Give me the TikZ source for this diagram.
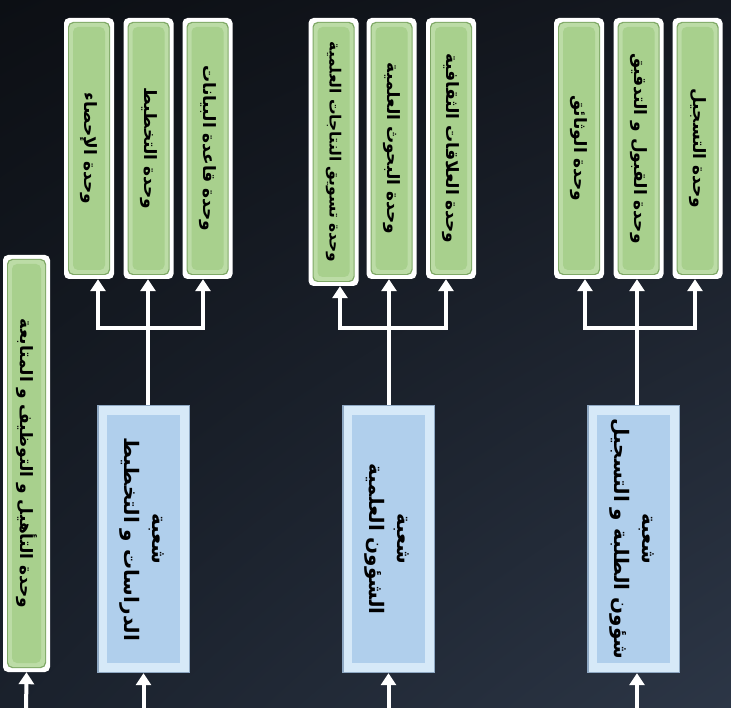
\documentclass[tikz,border=0pt]{standalone}
\usepackage{fontspec}
\usepackage{graphicx}
\usetikzlibrary{arrows.meta,shadings}
\TeXXeTstate=1
\newfontfamily\arabicfont[Script=Arabic]{DejaVu Sans}
\definecolor{bgA}{HTML}{0C0F14}
\definecolor{bgB}{HTML}{141820}
\definecolor{bgC}{HTML}{1A212C}
\definecolor{bgD}{HTML}{2C3646}
\definecolor{gEdge}{HTML}{7FA866}
\definecolor{gBand}{HTML}{BCDCA6}
\definecolor{gMain}{HTML}{A8D08D}
\definecolor{bEdge}{HTML}{8EA8C3}
\definecolor{bBand}{HTML}{D6E9F8}
\definecolor{bMain}{HTML}{B0CFEC}
\newcommand\vtxt[1]{\rotatebox{-90}{#1}}
\newcommand\vtwo[2]{\rotatebox{-90}{\begin{tabular}{@{}c@{}}#1\\[4pt]#2\end{tabular}}}
\begin{document}
\begin{tikzpicture}[x=1pt,y=-1pt,
  gbox/.style={fill=white, rounded corners=5pt, inner sep=0pt,
    font=\arabicfont\bfseries\fontsize{17}{20}\selectfont, text=black,
    path picture={
      \fill[gEdge] ([shift={(4pt,-4pt)}]path picture bounding box.north west) rectangle ([shift={(-4pt,4pt)}]path picture bounding box.south east);
      \fill[gBand] ([shift={(5pt,-5pt)}]path picture bounding box.north west) rectangle ([shift={(-5pt,5pt)}]path picture bounding box.south east);
      \fill[gMain] ([shift={(9pt,-9pt)}]path picture bounding box.north west) rectangle ([shift={(-9pt,9pt)}]path picture bounding box.south east);
    }},
  smalltext/.style={font=\arabicfont\bfseries\fontsize{15.5}{18}\selectfont},
  bbox/.style={fill=bEdge, inner sep=0pt, minimum width=93, minimum height=268,
    font=\arabicfont\bfseries\fontsize{20}{24}\selectfont, text=black,
    path picture={
      \fill[bBand] ([shift={(1.5pt,-1.5pt)}]path picture bounding box.north west) rectangle ([shift={(-1.5pt,1.5pt)}]path picture bounding box.south east);
      \fill[bMain] ([shift={(10pt,-10pt)}]path picture bounding box.north west) rectangle ([shift={(-10pt,10pt)}]path picture bounding box.south east);
    }},
  conn/.style={draw=white, line width=4pt},
  arr/.style={conn, -{Triangle[width=15pt,length=12pt]}}
]
\useasboundingbox (0,0) rectangle (731,708);
\shade[upper left=bgA, upper right=bgB, lower left=bgC, lower right=bgD] (0,0) rectangle (731,708);

% left tall unit
\node[gbox, minimum width=47, minimum height=417] (u0) at (26.5,463.5) {\vtxt{\beginR وحدة التأهيل و التوظيف و المتابعة\endR}};

% group 1
\node[gbox, minimum width=50, minimum height=261] (g11) at (89,148.5) {\vtxt{\beginR وحدة الإحصاء\endR}};
\node[gbox, minimum width=50, minimum height=261] (g12) at (148.5,148.5) {\vtxt{\beginR وحدة التخطيط\endR}};
\node[gbox, minimum width=50, minimum height=261] (g13) at (207.5,148.5) {\vtxt{\beginR وحدة قاعدة البيانات\endR}};
% group 2
\node[gbox, smalltext, minimum width=50, minimum height=268] (g21) at (333.5,152) {\vtxt{\beginR وحدة تسويق النتاجات العلمية\endR}};
\node[gbox, minimum width=50, minimum height=261] (g22) at (391.5,148.5) {\vtxt{\beginR وحدة البحوث العلمية\endR}};
\node[gbox, minimum width=50, minimum height=261] (g23) at (451,148.5) {\vtxt{\beginR وحدة العلاقات الثقافية\endR}};
% group 3
\node[gbox, minimum width=50, minimum height=261] (g31) at (579,148.5) {\vtxt{\beginR وحدة الوثائق\endR}};
\node[gbox, minimum width=50, minimum height=261] (g32) at (638.5,148.5) {\vtxt{\beginR وحدة القبول و التدقيق\endR}};
\node[gbox, minimum width=50, minimum height=261] (g33) at (697.5,148.5) {\vtxt{\beginR وحدة التسجيل\endR}};

% sections
\node[bbox] (b1) at (143.5,539) {\vtwo{\beginR شعبة\endR}{\beginR الدراسات و التخطيط\endR}};
\node[bbox] (b2) at (388.5,539) {\vtwo{\beginR شعبة\endR}{\beginR الشؤون العلمية\endR}};
\node[bbox] (b3) at (633.5,539) {\vtwo{\beginR شعبة\endR}{\beginR شؤون الطلبة و التسجيل\endR}};

% junctions
\coordinate (j1) at (148,328); \coordinate (a11) at (98,328);  \coordinate (a13) at (203,328);
\coordinate (j2) at (389,328); \coordinate (a21) at (340,328); \coordinate (a23) at (446,328);
\coordinate (j3) at (637,328); \coordinate (a31) at (585,328); \coordinate (a33) at (695,328);

\draw[arr] (b1.north -| j1) -- (j1 |- g12.south);
\draw[arr] (j1) -| (a11 |- g11.south);
\draw[arr] (j1) -| (a13 |- g13.south);

\draw[arr] (b2.north -| j2) -- (j2 |- g22.south);
\draw[arr] (j2) -| (a21 |- g21.south);
\draw[arr] (j2) -| (a23 |- g23.south);

\draw[arr] (b3.north -| j3) -- (j3 |- g32.south);
\draw[arr] (j3) -| (a31 |- g31.south);
\draw[arr] (j3) -| (a33 |- g33.south);

% incoming arrows from below
\coordinate (in0) at (26,716);
\coordinate (in1) at (143.5,716);
\coordinate (in2) at (388.5,716);
\coordinate (in3) at (637,716);
\draw[arr] (in0) -- (u0.south);
\draw[arr] (in1) -- (b1.south);
\draw[arr] (in2) -- (b2.south);
\draw[arr] (in3) -- (in3 |- b3.south);
\end{tikzpicture}
\end{document}
